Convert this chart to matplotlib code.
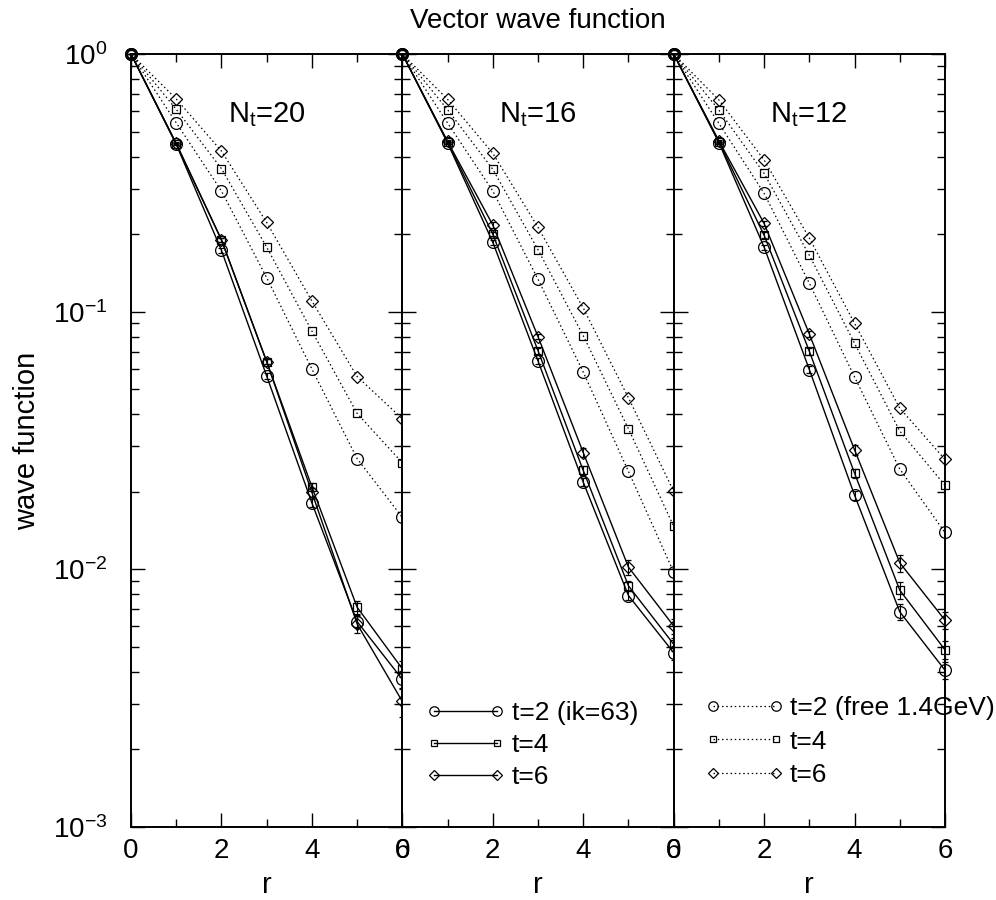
import matplotlib
matplotlib.use("Agg")
import matplotlib.pyplot as plt
from matplotlib.ticker import LogLocator, FixedLocator, NullFormatter
from matplotlib.lines import Line2D

plt.rcParams['font.family'] = ['Liberation Sans', 'DejaVu Sans']
plt.rcParams['mathtext.fontset'] = 'custom'
plt.rcParams['mathtext.rm'] = 'Liberation Sans'
plt.rcParams['mathtext.it'] = 'Liberation Sans'

r = [0, 1, 2, 3, 4, 5, 6]
panel_titles = ["$\\mathregular{N_t}$=20", "$\\mathregular{N_t}$=16", "$\\mathregular{N_t}$=12"]

# Nt = 20
nt20_ik_t2 = [1, 0.446, 0.173, 0.0563, 0.0181, 0.00627, 0.00374]
nt20_ik_t4 = [1, 0.448, 0.190, 0.0640, 0.0209, 0.00713, 0.00411]
nt20_ik_t6 = [1, 0.450, 0.190, 0.0640, 0.0199, 0.00614, 0.00307]
nt20_free_t2 = [1, 0.541, 0.294, 0.1355, 0.0599, 0.0269, 0.0159]
nt20_free_t4 = [1, 0.610, 0.359, 0.178, 0.0841, 0.0403, 0.0259]
nt20_free_t6 = [1, 0.669, 0.420, 0.222, 0.110, 0.0560, 0.0384]
nt20_err_t2 = [0, 0.004, 0.004, 0.0015, 0.0006, 0.0003, 0.0003]
nt20_err_t4 = [0, 0.004, 0.004, 0.0016, 0.0007, 0.0004, 0.0003]
nt20_err_t6 = [0, 0.004, 0.004, 0.0016, 0.0008, 0.0005, 0.0004]

# Nt = 16
nt16_ik_t2 = [1, 0.452, 0.186, 0.0644, 0.0218, 0.00791, 0.00475]
nt16_ik_t4 = [1, 0.455, 0.200, 0.0706, 0.0242, 0.00863, 0.00512]
nt16_ik_t6 = [1, 0.458, 0.217, 0.0800, 0.0284, 0.0102, 0.00603]
nt16_free_t2 = [1, 0.540, 0.294, 0.1336, 0.0583, 0.0240, 0.00975]
nt16_free_t4 = [1, 0.608, 0.357, 0.174, 0.0807, 0.0351, 0.0147]
nt16_free_t6 = [1, 0.667, 0.412, 0.2126, 0.1034, 0.0463, 0.0201]
nt16_err_t2 = [0, 0.004, 0.004, 0.0018, 0.0008, 0.0003, 0.0003]
nt16_err_t4 = [0, 0.004, 0.004, 0.0018, 0.0009, 0.0004, 0.0003]
nt16_err_t6 = [0, 0.004, 0.005, 0.0020, 0.0012, 0.0007, 0.0004]

# Nt = 12
nt12_ik_t2 = [1, 0.453, 0.178, 0.0596, 0.0194, 0.00684, 0.00406]
nt12_ik_t4 = [1, 0.456, 0.198, 0.0702, 0.0236, 0.00830, 0.00487]
nt12_ik_t6 = [1, 0.460, 0.220, 0.0819, 0.0291, 0.0106, 0.00635]
nt12_free_t2 = [1, 0.538, 0.288, 0.1289, 0.0558, 0.0245, 0.0139]
nt12_free_t4 = [1, 0.606, 0.344, 0.1655, 0.0754, 0.0344, 0.0212]
nt12_free_t6 = [1, 0.663, 0.388, 0.193, 0.0901, 0.0422, 0.0267]
nt12_err_t2 = [0, 0.004, 0.004, 0.0020, 0.0008, 0.0005, 0.0003]
nt12_err_t4 = [0, 0.004, 0.005, 0.0022, 0.0010, 0.0006, 0.0004]
nt12_err_t6 = [0, 0.004, 0.005, 0.0025, 0.0012, 0.0008, 0.0005]

panels = [
    ([nt20_ik_t2, nt20_ik_t4, nt20_ik_t6], [nt20_err_t2, nt20_err_t4, nt20_err_t6],
     [nt20_free_t2, nt20_free_t4, nt20_free_t6]),
    ([nt16_ik_t2, nt16_ik_t4, nt16_ik_t6], [nt16_err_t2, nt16_err_t4, nt16_err_t6],
     [nt16_free_t2, nt16_free_t4, nt16_free_t6]),
    ([nt12_ik_t2, nt12_ik_t4, nt12_ik_t6], [nt12_err_t2, nt12_err_t4, nt12_err_t6],
     [nt12_free_t2, nt12_free_t4, nt12_free_t6]),
]

ik_labels = ["t=2 (ik=63)", "t=4", "t=6"]
free_labels = ["t=2 (free 1.4GeV)", "t=4", "t=6"]
markers = ['o', 's', 'D']
msizes = [8.5, 6.0, 6.0]

fig = plt.figure(figsize=(9.96, 9.0), dpi=100)
W, H = 996.0, 900.0
x0, x1 = 131.0, 945.0
ytop, ybot = 54.0, 827.0
pw = (x1 - x0) / 3.0

axes = []
for i in range(3):
    ax = fig.add_axes([(x0 + i * pw) / W, 1 - ybot / H, pw / W, (ybot - ytop) / H])
    axes.append(ax)

dot_style = (0, (1.2, 2.2))
for i, ax in enumerate(axes):
    ik, errs, free = panels[i]
    for j in range(3):
        ax.errorbar(r, ik[j], yerr=errs[j], color='black', lw=1.0, marker=markers[j],
                    ms=msizes[j], mfc='none', mec='black', mew=0.9, capsize=2.5,
                    elinewidth=0.8, clip_on=False, zorder=3)
        ax.plot(r, free[j], color='black', lw=0.9, linestyle=dot_style, marker=markers[j],
                ms=msizes[j], mfc='none', mec='black', mew=0.9, clip_on=False, zorder=3)
    ax.set_yscale('log')
    ax.set_ylim(1e-3, 1)
    ax.set_xlim(0, 6)
    ax.xaxis.set_major_locator(FixedLocator([0, 2, 4, 6]))
    ax.xaxis.set_minor_locator(FixedLocator([1, 3, 5]))
    ax.yaxis.set_major_locator(LogLocator(base=10, numticks=10))
    ax.yaxis.set_minor_locator(LogLocator(base=10, subs=range(2, 10), numticks=20))
    ax.yaxis.set_minor_formatter(NullFormatter())
    ax.tick_params(which='both', direction='in', top=True, right=True, width=1.0)
    ax.tick_params(which='major', length=10)
    ax.tick_params(which='minor', length=6)
    ax.tick_params(axis='x', which='major', labelsize=20, pad=8)
    ax.tick_params(axis='y', which='major', labelsize=20, pad=17)
    for s in ax.spines.values():
        s.set_linewidth(1.4)
    ax.set_xlabel('r', fontsize=21, labelpad=5)
    ax.text(3, 0.58, panel_titles[i], fontsize=21, ha='center', va='center')
    if i > 0:
        ax.tick_params(axis='y', labelleft=False)
    else:
        ax.set_yticks([1e-3, 1e-2, 1e-1, 1])
        ax.set_yticklabels(["$\\mathregular{10^{-3}}$", "$\\mathregular{10^{-2}}$",
                            "$\\mathregular{10^{-1}}$", "$\\mathregular{10^{0}}$"])
        ax.set_ylabel('wave function', fontsize=21)
        ax.yaxis.set_label_coords(-0.33, 0.5)

def handles(ls):
    return [Line2D([0], [0], color='black', lw=1.0 if ls == '-' else 0.9,
                   linestyle=ls, marker=markers[j], ms=msizes[j] * 0.8, mfc='none',
                   mec='black', mew=0.9) for j in range(3)]

leg1 = axes[1].legend(handles('-'), ik_labels, loc='upper left',
                      bbox_to_anchor=(0.0875, 0.163), frameon=False, fontsize=19,
                      numpoints=2, handlelength=2.97, handletextpad=0.28,
                      labelspacing=0.31, borderpad=0, borderaxespad=0)
leg2 = axes[2].legend(handles(dot_style), free_labels, loc='upper left',
                      bbox_to_anchor=(0.1154, 0.169), frameon=False, fontsize=19,
                      numpoints=2, handlelength=3.0, handletextpad=0.22,
                      labelspacing=0.35, borderpad=0, borderaxespad=0)
leg2.set_zorder(5)

fig.text((x0 + x1) / 2 / W, 1 - 21 / H, 'Vector wave function', fontsize=20,
         ha='center', va='center')

fig.savefig('out.png', dpi=100)
